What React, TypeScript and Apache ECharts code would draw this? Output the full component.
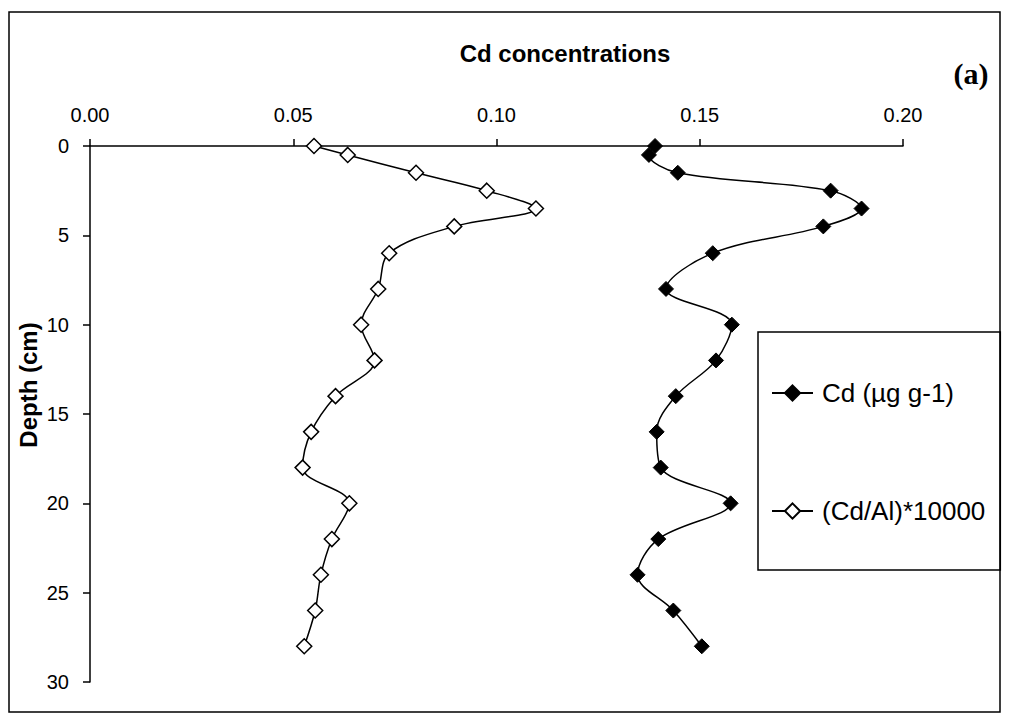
import React, { useEffect, useRef } from "react";
import * as echarts from "echarts";

const depths = [0, 0.5, 1.5, 2.5, 3.5, 4.5, 6, 8, 10, 12, 14, 16, 18, 20, 22, 24, 26, 28];
const cdValues = [0.139, 0.1375, 0.1446, 0.1822, 0.1898, 0.1804, 0.1532, 0.1417, 0.1579, 0.154, 0.1441, 0.1394, 0.1404, 0.1576, 0.1398, 0.1347, 0.1435, 0.1505];
const cdAlValues = [0.0551, 0.0634, 0.0802, 0.0976, 0.1097, 0.0896, 0.0736, 0.0709, 0.0667, 0.07, 0.0604, 0.0544, 0.0523, 0.0638, 0.0595, 0.0568, 0.0554, 0.0527];
const seriesNames = ["Cd (µg g-1)", "(Cd/Al)*10000"];
const titleText = "Cd concentrations";
const yAxisTitle = "Depth (cm)";
const panelLabel = "(a)";

const SANS = '"Liberation Sans", Arial, sans-serif';
const SERIF = '"Liberation Serif", "Times New Roman", serif';

export default function App() {
  const ref = useRef<HTMLDivElement>(null);
  useEffect(() => {
    if (!ref.current) return;
    const chart = echarts.init(ref.current, undefined, { renderer: "svg" });
    const pair = (vals: number[]) => vals.map((v, i) => [v, depths[i]]);
    chart.setOption({
      animation: false,
      backgroundColor: "#fff",
      title: {
        text: titleText,
        left: 560,
        top: 36,
        textAlign: "center",
        textStyle: { fontFamily: SANS, fontSize: 24, fontWeight: "bold", color: "#000" },
      },
      grid: { left: 90, right: 106, top: 146, bottom: 40, containLabel: false },
      xAxis: {
        type: "value",
        position: "top",
        min: 0,
        max: 0.2,
        interval: 0.05,
        axisLine: { show: true, lineStyle: { color: "#000", width: 1.5 } },
        axisTick: { show: true, inside: false, length: 7, lineStyle: { color: "#000", width: 1.5 } },
        splitLine: { show: false },
        axisLabel: {
          margin: 21,
          fontFamily: SANS,
          fontSize: 20,
          color: "#000",
          formatter: (v: number) => v.toFixed(2),
        },
      },
      yAxis: {
        type: "value",
        inverse: true,
        min: 0,
        max: 30,
        interval: 5,
        axisLine: { show: true, lineStyle: { color: "#000", width: 1.5 } },
        axisTick: { show: true, inside: false, length: 7, lineStyle: { color: "#000", width: 1.5 } },
        splitLine: { show: false },
        axisLabel: { margin: 21, fontFamily: SANS, fontSize: 20, color: "#000" },
      },
      legend: {
        orient: "vertical",
        left: 758,
        top: 332,
        padding: [46, 15, 44, 13],
        itemGap: 88,
        itemWidth: 41,
        itemHeight: 19,
        borderColor: "#000",
        borderWidth: 1.5,
        textStyle: { fontFamily: SANS, fontSize: 26, color: "#000", lineHeight: 30, padding: [0, 0, 0, 4] },
        data: seriesNames,
      },
      series: [
        {
          name: seriesNames[0],
          type: "line",
          data: pair(cdValues),
          smooth: 0.35,
          symbol: "diamond",
          symbolSize: 15,
          lineStyle: { color: "#000", width: 1.5 },
          itemStyle: { color: "#000", borderColor: "#000", borderWidth: 1 },
        },
        {
          name: seriesNames[1],
          type: "line",
          data: pair(cdAlValues),
          smooth: 0.35,
          symbol: "diamond",
          symbolSize: 15,
          lineStyle: { color: "#000", width: 1.5 },
          itemStyle: { color: "#fff", borderColor: "#000", borderWidth: 1.5 },
        },
      ],
      graphic: [
        {
          type: "rect",
          shape: { x: 9, y: 12, width: 991, height: 700 },
          style: { fill: "none", stroke: "#000", lineWidth: 1.5 },
          silent: true,
          z: -1,
        },
        {
          type: "text",
          x: 28,
          y: 385,
          rotation: Math.PI / 2,
          style: {
            text: yAxisTitle,
            font: `bold 24px ${SANS}`,
            fill: "#000",
            align: "center",
            verticalAlign: "middle",
          },
        },
        {
          type: "text",
          x: 971,
          y: 73,
          style: {
            text: panelLabel,
            font: `bold 30px ${SERIF}`,
            fill: "#000",
            align: "center",
            verticalAlign: "middle",
          },
        },
      ],
    });
    return () => chart.dispose();
  }, []);
  return <div ref={ref} style={{ position: "absolute", left: 0, top: 0, width: 1009, height: 722 }} />;
}
